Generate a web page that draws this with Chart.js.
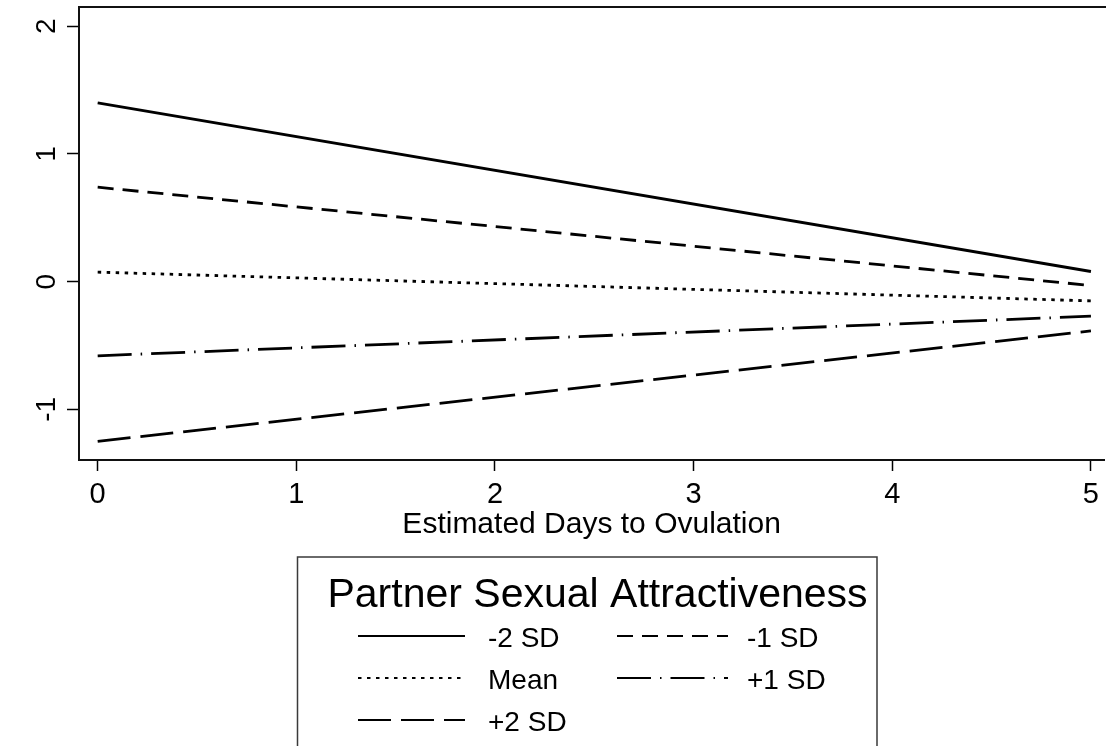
<!DOCTYPE html>
<html>
<head>
<meta charset="utf-8">
<script src="https://cdn.jsdelivr.net/npm/chart.js@4"></script>
<style>
  html, body { margin: 0; padding: 0; background: #fff; overflow: hidden; }
  canvas { display: block; }
</style>
</head>
<body>
<canvas id="c" width="1106" height="746"></canvas>
<script>
// Predicted values at 0 and 5 estimated days to ovulation
const days     = [0, 5];
const minus2SD = [1.40, 0.08];
const minus1SD = [0.74, -0.03];
const meanSD   = [0.075, -0.15];
const plus1SD  = [-0.58, -0.27];
const plus2SD  = [-1.25, -0.385];

const seriesNames = ['-2 SD', '-1 SD', 'Mean', '+1 SD', '+2 SD'];
const xTicks = [0, 1, 2, 3, 4, 5];
const yTicks = [-1, 0, 1, 2];
const legendTitle = 'Partner Sexual Attractiveness';
const xTitle = 'Estimated Days to Ovulation';

const FONT = '"Liberation Sans", Arial, Helvetica, sans-serif';

// line patterns for each series
const dashes = [[], [16, 9], [3.5, 5.5], [34, 9, 1.5, 9], [33, 10]];
const seriesValues = [minus2SD, minus1SD, meanSD, plus1SD, plus2SD];

const datasets = seriesNames.map((name, i) => ({
  label: name,
  data: days.map((d, j) => ({ x: d, y: seriesValues[i][j] })),
  borderColor: '#000',
  borderWidth: 2.8,
  borderDash: dashes[i],
  borderCapStyle: 'butt',
  pointRadius: 0,
  fill: false,
  tension: 0
}));

// frame top edge, rotated y tick labels and the boxed legend
const decorations = {
  id: 'decorations',
  afterDraw(chart) {
    const ctx = chart.ctx;
    const area = chart.chartArea;
    const yScale = chart.scales.y;

    ctx.save();
    // top edge of the plot frame
    ctx.strokeStyle = '#111';
    ctx.lineWidth = 2;
    ctx.beginPath();
    ctx.moveTo(area.left - 1, area.top);
    ctx.lineTo(area.right + 2, area.top);
    ctx.stroke();

    // y tick labels, read bottom to top
    ctx.fillStyle = '#000';
    ctx.font = '28px ' + FONT;
    ctx.textAlign = 'center';
    ctx.textBaseline = 'alphabetic';
    yTicks.forEach(v => {
      const py = yScale.getPixelForValue(v);
      ctx.save();
      ctx.translate(55, py);
      ctx.rotate(-Math.PI / 2);
      ctx.fillText(String(v), 0, 0);
      ctx.restore();
    });

    // legend box
    const box = { left: 297.5, top: 557, right: 877, bottom: 760 };
    ctx.strokeStyle = '#3a3a3a';
    ctx.lineWidth = 1.5;
    ctx.setLineDash([]);
    ctx.beginPath();
    ctx.moveTo(box.left, box.bottom);
    ctx.lineTo(box.left, box.top);
    ctx.lineTo(box.right, box.top);
    ctx.lineTo(box.right, box.bottom);
    ctx.stroke();

    ctx.fillStyle = '#000';
    ctx.font = '41px ' + FONT;
    ctx.textAlign = 'center';
    ctx.fillText(legendTitle, 597.5, 607);

    const cols = [
      { x0: 358, x1: 465, tx: 488 },
      { x0: 617, x1: 728, tx: 747 }
    ];
    const rows = [636, 678, 720];
    ctx.font = '28px ' + FONT;
    ctx.textAlign = 'left';
    chart.data.datasets.forEach((ds, i) => {
      const c = cols[i % 2];
      const r = rows[Math.floor(i / 2)];
      ctx.strokeStyle = ds.borderColor;
      ctx.lineWidth = 2.2;
      ctx.lineCap = 'butt';
      ctx.setLineDash(ds.borderDash);
      ctx.beginPath();
      ctx.moveTo(c.x0, r);
      ctx.lineTo(c.x1, r);
      ctx.stroke();
      ctx.setLineDash([]);
      ctx.fillText(ds.label, c.tx, r + 11);
    });
    ctx.restore();
  }
};

new Chart(document.getElementById('c'), {
  type: 'line',
  data: { datasets },
  options: {
    responsive: false,
    animation: false,
    events: [],
    layout: { padding: { top: 7, right: 0, left: 0, bottom: 0 } },
    plugins: {
      legend: { display: false },
      tooltip: { enabled: false },
      title: { display: false }
    },
    scales: {
      x: {
        type: 'linear',
        min: -0.094,
        max: 5.067,
        afterBuildTicks(scale) { scale.ticks = xTicks.map(v => ({ value: v })); },
        afterFit(scale) { scale.height = 286; },
        grid: {
          drawOnChartArea: false,
          drawTicks: true,
          tickLength: 11,
          tickWidth: 1.5,
          color: '#000'
        },
        border: { display: true, color: '#111', width: 2 },
        ticks: {
          color: '#000',
          font: { family: FONT, size: 29 },
          padding: 7,
          maxRotation: 0,
          autoSkip: false
        },
        title: {
          display: true,
          text: xTitle,
          color: '#000',
          font: { family: FONT, size: 30 },
          padding: { top: 0, bottom: 203 }
        }
      },
      y: {
        type: 'linear',
        min: -1.396,
        max: 2.151,
        afterBuildTicks(scale) { scale.ticks = yTicks.map(v => ({ value: v })); },
        afterFit(scale) { scale.width = 79; },
        grid: {
          drawOnChartArea: false,
          drawTicks: true,
          tickLength: 12,
          tickWidth: 1.5,
          color: '#000'
        },
        border: { display: true, color: '#111', width: 2 },
        ticks: { display: false }
      }
    }
  },
  plugins: [decorations]
});
</script>
</body>
</html>
